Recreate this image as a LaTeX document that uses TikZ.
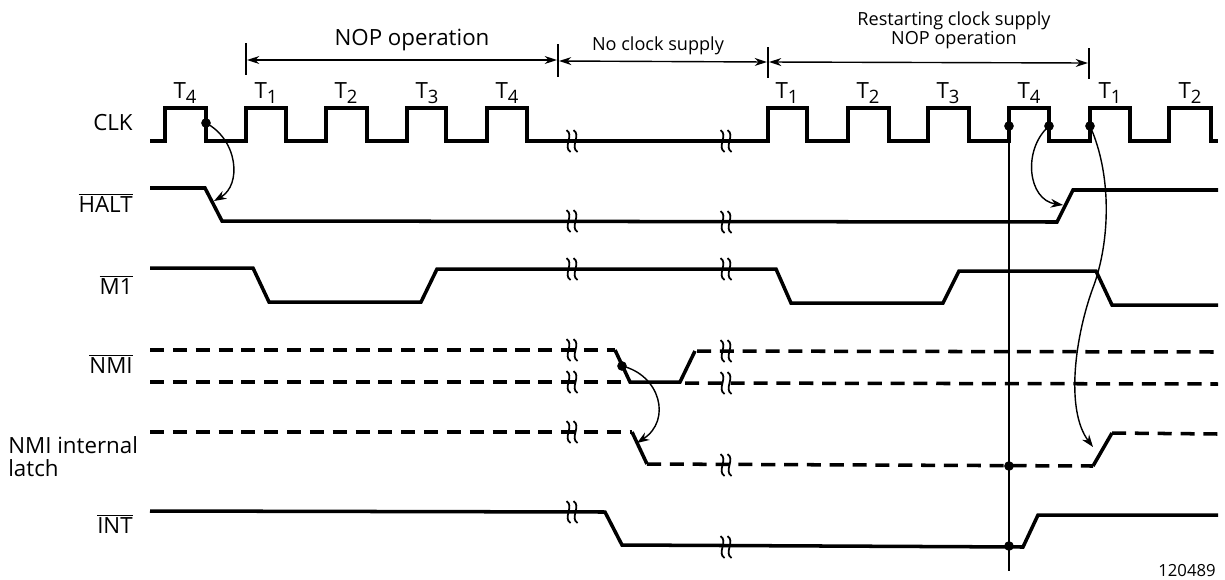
\documentclass[tikz,border=0pt]{standalone}
\usepackage{fontspec}
\setmainfont{Open Sans}
\usetikzlibrary{arrows.meta}
\newcommand\ovl[1]{$\overline{\hbox{#1}}$}
\newcommand\Tl[1]{T\raisebox{-0.45ex}{\fontsize{10.5}{10.5}\selectfont #1}}
\tikzset{
  sig/.style={line width=2pt, line join=miter},
  dsig/.style={sig, dash pattern=on 8pt off 5pt},
  fine/.style={line width=0.8pt},
  arr/.style={fine,-{Stealth[length=7pt,width=5pt]}},
  darr/.style={fine,{Stealth[length=7pt,width=4.5pt]}-{Stealth[length=7pt,width=4.5pt]}},
  dot/.style={circle,fill,inner sep=0pt,minimum size=5.5pt},
  lbl/.style={font=\fontsize{12.7}{13}\selectfont, inner sep=0pt},
  slbl/.style={font=\fontsize{10.3}{11}\selectfont, inner sep=0pt},
  brk/.pic={
    \foreach \dx in {-3.5,3.5} {
      \draw[line width=1pt] (\dx-2,-11) .. controls (\dx+6,-6) and (\dx-6,6) .. (\dx+2,11);
    }
  }
}
\begin{document}
\begin{tikzpicture}[x=0.02cm,y=-0.02cm]
\useasboundingbox (0,0) rectangle (1225,579);

% signal names
\node[lbl,anchor=east] (nclk) at (133,123) {CLK};
\node[lbl,anchor=east] (nhalt) at (133,203) {\ovl{HALT}};
\node[lbl,anchor=east] (nm1) at (133,285) {\ovl{M1}};
\node[lbl,anchor=east] (nnmi) at (133,364) {\ovl{NMI}};
\node[lbl,anchor=west,align=left] (nlatch) at (8,457) {NMI internal\\latch};
\node[lbl,anchor=east] (nint) at (133,524) {\ovl{INT}};
\node[inner sep=0pt,font=\fontsize{9.5}{10}\selectfont] (code) at (1187,571) {120489};

% top annotations
\node[lbl] (tnop) at (412,40) {NOP operation};
\coordinate (b1t) at (246,43); \coordinate (b1b) at (246,75);
\coordinate (b2t) at (558,44); \coordinate (b2b) at (558,77);
\coordinate (b3t) at (768,47); \coordinate (b3b) at (768,78);
\coordinate (b4t) at (1089,48); \coordinate (b4b) at (1089,79);
\draw[fine] (b1t) -- (b1b);
\draw[fine] (b2t) -- (b2b);
\draw[fine] (b3t) -- (b3b);
\draw[fine] (b4t) -- (b4b);
\coordinate (a1l) at (247,60); \coordinate (a1r) at (557,60);
\coordinate (a2l) at (559,61); \coordinate (a2r) at (767,62);
\coordinate (a3l) at (769,62); \coordinate (a3r) at (1088,63);
\draw[darr] (a1l) -- (a1r);
\draw[darr] (a2l) -- (a2r);
\draw[darr] (a3l) -- (a3r);
\node[slbl] (tnoclk) at (658,46) {No clock supply};
\node[slbl] (trest) at (954,21) {Restarting clock supply};
\node[slbl] (tnop2) at (954,40) {NOP operation};

% T labels
\foreach \x/\t [count=\i] in {185/4,266/1,346/2,427/3,507/4,787/1,868/2,948/3,1029/4,1110/1,1190/2}
  \node[lbl] (T\i) at (\x,93) {\Tl{\t}};

% CLK
\draw[sig] (150,141) foreach \a/\b in {165/206,246/286,326/367,407/446,487/527,768/807,848/889,928/969,1009/1049,1090/1130,1169/1211}
  { -- (\a,141) -- (\a,108) -- (\b,108) -- (\b,141) } -- (1218,141);

% HALT
\draw[sig] (150,188) -- (205,188) -- (222,221) -- (1057,222) -- (1073,190) -- (1218,190);
% M1
\draw[sig] (150,268) -- (253,268) -- (269,302) -- (421,302) -- (437,269) -- (776,269) -- (791,303) -- (943,303) -- (959,271) -- (1096,271) -- (1112,305) -- (1218,305);
% NMI
\draw[dsig] (150,350) -- (615,350);
\draw[dsig] (150,382) -- (628,382);
\draw[sig] (615,350) -- (630,382) -- (680,382) -- (695,351);
\draw[dsig] (697,351) -- (1218,352);
\draw[dsig] (685,383) -- (1218,384);
% NMI internal latch
\draw[dsig] (150,432) -- (632,432);
\draw[sig] (632,432) -- (647,464);
\draw[dsig] (647,464) -- (1093,466);
\draw[sig] (1093,466) -- (1112,433);
\draw[dsig] (1112,433) -- (1218,434);
% INT
\draw[sig] (150,511) -- (605,512) -- (622,545) -- (1023,547) -- (1038,515) -- (1218,515);

% break marks
\foreach \y in {141,221,269,350,382,432,512}
  \pic at (572,\y) {brk};
\foreach \y in {141,222,269,351,383,465,547}
  \pic at (726,\y) {brk};

% vertical reference line
\coordinate (vbot) at (1009,571);
\node[dot] (d4) at (1009,126) {};
\node[dot] (dl) at (1009,466) {};
\node[dot] (di) at (1009,546) {};
\draw[fine] (d4.center) -- (vbot);

% dots
\node[dot] (d1) at (206,123) {};
\node[dot] (dn) at (622,366) {};
\node[dot] (d5) at (1049,126) {};
\node[dot] (d6) at (1090,126) {};

% causal arrows
\coordinate (haltfall) at (214,201);
\coordinate (latchfall) at (637,443);
\coordinate (haltrise) at (1063,205);
\coordinate (m1c) at (1094,285);
\coordinate (latchrise) at (1093,447);
\draw[arr] (d1.center) .. controls (238,140) and (242,185) .. (haltfall);
\draw[arr] (dn.center) .. controls (660,375) and (672,420) .. (latchfall);
\draw[arr] (d5.center) .. controls (1022,150) and (1028,200) .. (haltrise);
\draw[fine] (d6.center) .. controls (1112,175) and (1110,240) .. (m1c);
\draw[arr] (m1c) .. controls (1075,335) and (1065,410) .. (latchrise);
\end{tikzpicture}
\end{document}
